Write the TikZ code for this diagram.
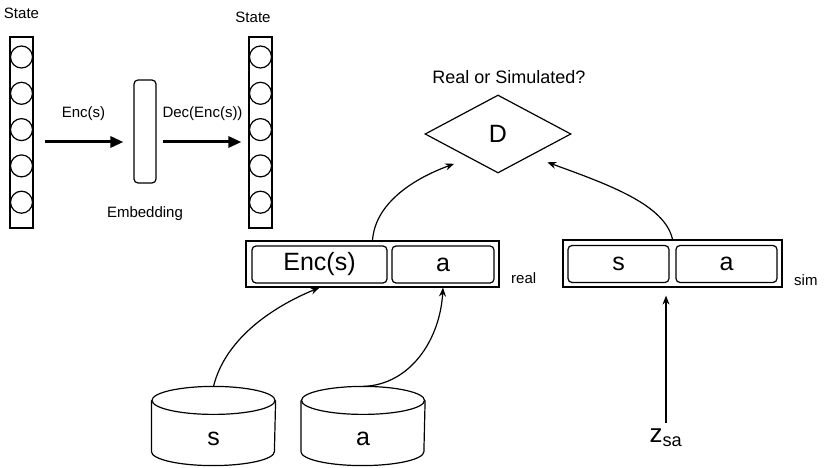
\documentclass[tikz,border=0pt]{standalone}
\usepackage{fontspec}
\setmainfont{Liberation Sans}
\usetikzlibrary{arrows.meta,positioning,shapes.geometric}

\begin{document}
\begin{tikzpicture}[x=1pt, y=-1pt, line width=1.2pt,
  lbl/.style={font=\fontsize{15}{18}\selectfont, inner sep=0pt},
  big/.style={font=\fontsize{25}{30}\selectfont},
  cell/.style={draw, rounded corners=4pt, minimum height=37pt, inner sep=2pt},
  neuron/.style={draw, circle, minimum size=22pt, inner sep=0pt},
  column/.style={draw, minimum width=23pt, minimum height=191pt, inner sep=0pt},
  encarrow/.style={line width=3pt, -{Triangle[length=13pt, width=11pt]}},
  link/.style={-{Stealth[length=9pt, width=7pt]}}]
  \useasboundingbox (0,0) rectangle (831,468);

  % autoencoder
  \node[column] (stL) at (21.5,132.5) {};
  \node[column] (stR) at (260.5,132.5) {};
  \foreach \i in {1,...,5} {
    \node[neuron] (inL\i) at (21.5,{20.7+36.3*\i}) {};
    \node[neuron] (outR\i) at (260.5,{20.7+36.3*\i}) {};
  }
  \node[lbl] (stLt) at (21.5,13.5) {State};
  \node[lbl] (stRt) at (253,17) {State};
  \node[draw, rounded corners=4pt, minimum width=22pt, minimum height=103pt] (emb) at (145,131.5) {};
  \node[lbl, below=22pt of emb] (embT) {Embedding};
  \draw[encarrow, shorten <=11pt, shorten >=10pt] (stL.east |- 0,142) -- (emb.west |- 0,142)
    node[lbl, midway, above=20pt] (encT) {Enc(s)};
  \draw[encarrow, shorten <=6pt, shorten >=7pt] (emb.east |- 0,142) -- (stR.west |- 0,142)
    node[lbl, midway, above=20pt] (decT) {Dec(Enc(s))};

  % discriminator
  \node[draw, diamond, aspect=1.87, minimum width=146pt, minimum height=78pt, inner sep=0pt, big] (D) at (498,134) {D};
  \node[font=\fontsize{18}{22}\selectfont] (q) at (509,77) {Real or Simulated?};

  % real pair
  \node[draw, minimum width=253pt, minimum height=46pt] (real) at (372.5,264) {};
  \node[cell, big, minimum width=135pt] (encS) at (319.5,264.5) {Enc(s)};
  \node[cell, big, minimum width=102pt] (realA) at (443,264.5) {a};
  \node[lbl, anchor=base west] (realT) at ([xshift=11pt,yshift=4pt]real.south east) {real};

  % simulated pair
  \node[draw, minimum width=219pt, minimum height=47pt] (sim) at (672.5,263.5) {};
  \node[cell, big, minimum width=101pt] (simS) at (618.5,264) {s};
  \node[cell, big, minimum width=101pt] (simA) at (726.5,264) {a};
  \node[lbl, anchor=base west] (simT) at ([xshift=11pt,yshift=2pt]sim.south east) {sim};

  % data stores
  \node[minimum width=123pt, minimum height=78pt] (dbS) at (213.5,426) {};
  \node[minimum width=123pt, minimum height=78pt] (dbA) at (363,426) {};
  \foreach \db/\t in {dbS/s, dbA/a} {
    \draw ([yshift=-14pt]\db.north) ellipse[x radius=61.5pt, y radius=14pt];
    \draw ([yshift=-14pt]\db.north west) -- ([yshift=14pt]\db.south west)
      arc[start angle=180, end angle=360, x radius=61.5pt, y radius=14pt]
      -- ([yshift=-14pt]\db.north east);
    \node[big] (\db txt) at ([yshift=-13pt]\db.center) {\t};
  }

  \node[font=\fontsize{26}{30}\selectfont] (z) at (666,438) {z\textsubscript{sa}};

  \draw[link] (dbS.north) .. controls (225,340) and (270,308) .. (encS.south |- real.south);
  \draw[link] (dbA.north) .. controls (410,385) and (440,340) .. (realA.south |- real.south);
  \draw[link] (real.north) .. controls (375,205) and (410,180) .. ([shift={(-7pt,-10pt)}]D.south west);
  \draw[link] (sim.north) .. controls (665,205) and (610,185) .. ([shift={(12.5pt,-8.5pt)}]D.south east);
  \draw[link, shorten <=2pt, shorten >=8pt] (z) -- (z |- sim.south);
\end{tikzpicture}
\end{document}
